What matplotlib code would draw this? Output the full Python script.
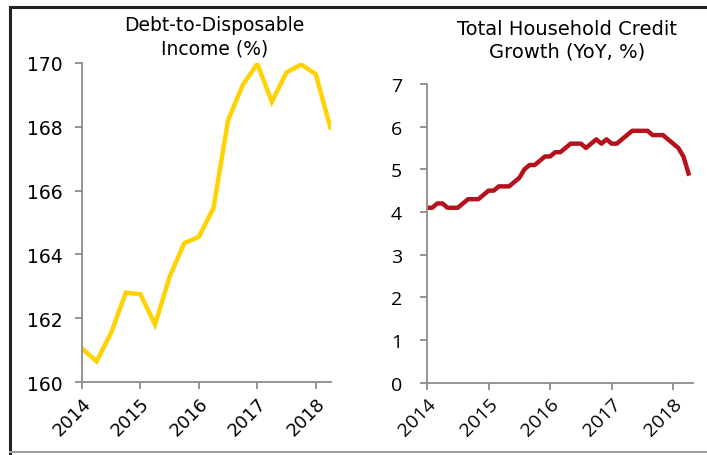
import matplotlib
matplotlib.use("Agg")
import matplotlib.pyplot as plt
from matplotlib.lines import Line2D
import numpy as np

# Left panel: quarterly debt-to-disposable income (%)
debt_start = 2014.0
debt_values = [161.05, 160.65, 161.55, 162.8, 162.75, 161.8, 163.3, 164.35, 164.55,
               165.45, 168.2, 169.3, 169.97, 168.78, 169.7, 169.95, 169.65, 167.98]

# Right panel: monthly total household credit growth (YoY, %)
credit_start = 2014.0
credit_values = [4.1, 4.1, 4.2, 4.2, 4.1, 4.1, 4.1, 4.2, 4.3, 4.3, 4.3, 4.4,
                 4.5, 4.5, 4.6, 4.6, 4.6, 4.7, 4.8, 5.0, 5.1, 5.1, 5.2, 5.3,
                 5.3, 5.4, 5.4, 5.5, 5.6, 5.6, 5.6, 5.5, 5.6, 5.7, 5.6, 5.7,
                 5.6, 5.6, 5.7, 5.8, 5.9, 5.9, 5.9, 5.9, 5.8, 5.8, 5.8, 5.7,
                 5.6, 5.5, 5.3, 4.9]

year_ticks = [2014, 2015, 2016, 2017, 2018]
left_yticks = [160, 162, 164, 166, 168, 170]
right_yticks = [0, 1, 2, 3, 4, 5, 6, 7]
left_title = "Debt-to-Disposable\nIncome (%)"
right_title = "Total Household Credit\nGrowth (YoY, %)"

debt_x = debt_start + np.arange(len(debt_values)) * 0.25
credit_x = credit_start + np.arange(len(credit_values)) / 12.0

fig = plt.figure(figsize=(7.07, 4.56), dpi=100)
spine_color = "#8c8c8c"

def style(ax, fam, xsize, ypad):
    for s in ["top", "right"]:
        ax.spines[s].set_visible(False)
    for s in ["left", "bottom"]:
        ax.spines[s].set_color(spine_color)
        ax.spines[s].set_linewidth(1.3)
    ax.tick_params(axis="both", color=spine_color, width=1.3, length=5, direction="out")
    ax.tick_params(axis="y", pad=ypad)
    ax.set_xticks(year_ticks)
    ax.set_xticklabels([str(y) for y in year_ticks], rotation=45, ha="right",
                       rotation_mode="anchor", fontsize=xsize, family=fam)
    for lab in ax.get_yticklabels():
        lab.set_family(fam)

ax1 = fig.add_axes([0.116, 0.160, 0.352, 0.700])
ax1.plot(debt_x, debt_values, color="#FFD200", lw=3.2, solid_joinstyle="miter")
ax1.set_xlim(2014, 2018.26)
ax1.set_ylim(160, 170)
ax1.set_yticks(left_yticks)
ax1.set_yticklabels([str(v) for v in left_yticks], fontsize=13.5)
style(ax1, "DejaVu Sans", 13, 9)
fig.text(0.303, 0.966, left_title, ha="center", va="top", fontsize=13.5,
         family="DejaVu Sans", linespacing=1.3)

ax2 = fig.add_axes([0.604, 0.158, 0.376, 0.656])
ax2.plot(credit_x, credit_values, color="#B5121B", lw=3.2)
ax2.set_xlim(2014, 2018.32)
ax2.set_ylim(0, 7)
ax2.set_yticks(right_yticks)
ax2.set_yticklabels([str(v) for v in right_yticks], fontsize=14)
style(ax2, "Open Sans", 14, 13)
fig.text(0.802, 0.956, right_title, ha="center", va="top", fontsize=14,
         family="DejaVu Sans", linespacing=1.25)

# frame lines
fig.add_artist(Line2D([10/707, 1], [1 - 8/456, 1 - 8/456], color="#222222", lw=2.2,
                      transform=fig.transFigure))
fig.add_artist(Line2D([10/707, 10/707], [0, 1 - 8/456], color="#222222", lw=2.2,
                      transform=fig.transFigure))
fig.add_artist(Line2D([10/707, 1], [1 - 453/456, 1 - 453/456], color="#a0a0a0", lw=1.5,
                      transform=fig.transFigure))

fig.savefig("out.png", dpi=100)
